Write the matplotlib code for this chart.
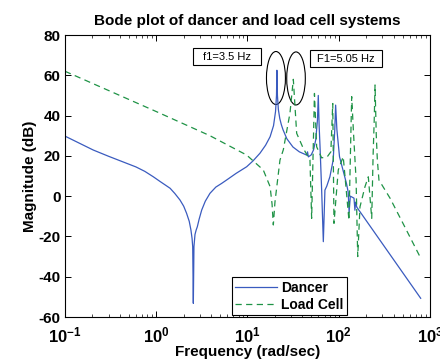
import numpy as np
import matplotlib
matplotlib.use("Agg")
import matplotlib.pyplot as plt
from matplotlib.patches import Ellipse, Rectangle

plt.rcParams['font.family'] = ['Liberation Sans', 'DejaVu Sans']
plt.rcParams['mathtext.fontset'] = 'custom'
plt.rcParams['mathtext.rm'] = 'Liberation Sans:bold'
plt.rcParams['mathtext.default'] = 'rm'

# DATA
dancer_w = [0.1, 0.204, 0.3, 0.474, 0.6, 0.75, 0.93, 1.1, 1.25, 1.42, 1.6, 1.82, 2.0,
            2.15, 2.3, 2.40, 2.47, 2.51, 2.55, 2.59, 2.66, 2.74, 2.82, 2.95, 3.15,
            3.45, 3.88, 4.5, 5.2, 5.9, 7.5, 9.8, 11.5, 13.7, 15.8, 17.7,
            19.3, 20.3, 20.8, 21.0, 21.3, 21.8, 22.6, 23.5, 24.5, 27.0, 31.5, 37.0,
            44.5, 45.5, 46.5, 50.0, 53.0, 56.0, 58.5, 59.7, 61.0, 62.4, 65.0, 67.8,
            70.6, 74.0, 80.0, 87.0, 90.5, 92.5, 95.5, 102.0, 122.0, 127.0, 130.0,
            134.0, 147.0, 150.5, 153.0, 158.0, 791.0]
dancer_db = [29.8, 22.9, 19.8, 16.3, 14.5, 12.3, 9.6, 7.3, 5.6, 3.9, 1.3, -1.9, -5,
             -8.5, -12.5, -16.8, -21, -25.1, -53.2, -25.1, -19, -16.8, -15.2, -11.5, -6.9,
             -2.5, 1.4, 4.5, 6.3, 8, 11.3, 14.6, 17.5, 21.3, 25.3, 29.5,
             35, 42, 50, 62.5, 50, 43, 38.5, 35.5, 33, 28.5, 24.4, 22,
             20.4, 22, 19.5, 20.5, 23, 28, 38, 50, 35, 24.5, 3, -22.6,
             3, 5, 9.6, 18, 33, 45.2, 33, 19.6, 6, 2, -8,
             0, -1, -7, -3, -5.5, -50.7]

load_w = [0.1, 1.0, 3.88, 9.8, 14.9, 17.7, 18.6, 19.2, 20.0, 22.7, 24.7, 29.2, 31.8,
          34.6, 40.9, 48.4, 50.5, 54.2, 57.3, 65.0, 75.0, 82.0, 86.0, 88.7, 98.9,
          112.0, 129.5, 138.7, 144.6, 155.0, 161.5, 171.0, 194.0, 211.0, 230.0,
          238.0, 245.0, 250.0, 258.0, 265.0, 276.0, 365.0, 506.0, 776.0]
load_db = [62, 42, 30, 20.4, 13, 4.7, -4, -14.3, -3, 17.9, 23, 41.1, 58,
           31.2, 23.7, 17.9, -11, 51, 24.5, 19, 19.6, 22, 46, -13.5, 13,
           19.6, -12, 49.4, 33, 8, -30, -5.3, 4.7, 9.6, -11,
           20, 38, 55.2, 30, 18, 8, -1, -13.5, -30]

yticks = [-60, -40, -20, 0, 20, 40, 60, 80]
xticks = [0.1, 1, 10, 100, 1000]
xticklabels = ['10$^{-1}$', '10$^{0}$', '10$^{1}$', '10$^{2}$', '10$^{3}$']

fig = plt.figure(figsize=(4.4, 3.62), dpi=100)
ax = fig.add_axes([0.1477, 0.1243, 0.8295, 0.779])

ax.semilogx(dancer_w, dancer_db, '-', color='#3a5bbf', lw=0.9, label='Dancer')
ax.semilogx(load_w, load_db, '--', color='#1f9346', lw=0.9, dashes=(5, 3.5), label='Load Cell')

ax.set_xlim(0.1, 1000)
ax.set_ylim(-60, 80)
ax.set_yticks(yticks)
ax.set_yticklabels([str(v) for v in yticks], fontweight='bold', fontsize=11)
ax.set_xticks(xticks)
ax.set_xticklabels(xticklabels, fontweight='bold', fontsize=12)
ax.tick_params(which='both', direction='in', top=True, right=True)
ax.tick_params(which='major', length=4, width=0.7, pad=3)
ax.tick_params(axis='x', which='major', pad=6)
ax.tick_params(which='minor', length=2, width=0.5)

ax.set_title('Bode plot of dancer and load cell systems', fontweight='bold', fontsize=11, pad=7)
ax.set_xlabel('Frequency (rad/sec)', fontweight='bold', fontsize=11, labelpad=0)
ax.set_ylabel('Magnitude (dB)', fontweight='bold', fontsize=11, labelpad=1)

for s in ax.spines.values():
    s.set_linewidth(0.8)

# peak markers
ax.add_patch(Ellipse((0.578, 0.8475), 0.052, 0.188, transform=ax.transAxes,
                     fill=False, ec='black', lw=0.8))
ax.add_patch(Ellipse((0.633, 0.846), 0.051, 0.188, transform=ax.transAxes,
                     fill=False, ec='black', lw=0.8))

# text boxes
ax.add_patch(Rectangle((0.350, 0.894), 0.187, 0.059, transform=ax.transAxes,
                       fill=True, fc='white', ec='black', lw=0.8))
ax.text(0.4435, 0.9235, 'f1=3.5 Hz', transform=ax.transAxes, ha='center', va='center', fontsize=8)
ax.add_patch(Rectangle((0.671, 0.885), 0.198, 0.061, transform=ax.transAxes,
                       fill=True, fc='white', ec='black', lw=0.8))
ax.text(0.770, 0.9157, 'F1=5.05 Hz', transform=ax.transAxes, ha='center', va='center', fontsize=8)

leg = ax.legend(loc='lower left', bbox_to_anchor=(0.457, 0.007),
                prop={'weight': 'bold', 'size': 10}, fancybox=False, framealpha=1,
                edgecolor='black', handlelength=3.0, borderpad=0.25, labelspacing=0.2,
                handletextpad=0.3, borderaxespad=0)
leg.get_frame().set_linewidth(0.8)

fig.savefig('out.png', dpi=100)
